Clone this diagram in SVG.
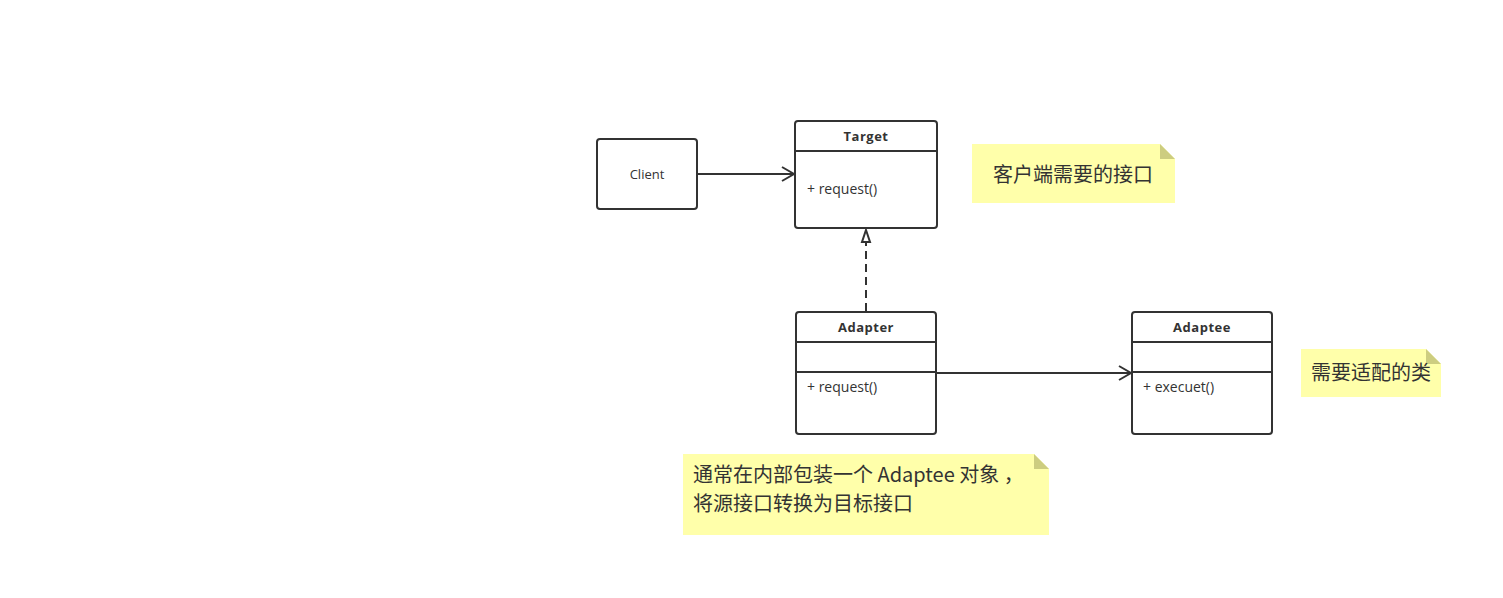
<svg xmlns="http://www.w3.org/2000/svg" width="1503" height="598" viewBox="0 0 1503 598">
<style>
.box{fill:#fff;stroke:#323232;stroke-width:2}
.ln{stroke:#323232;stroke-width:2;fill:none}
.t{font-family:"Open Sans","Noto Sans CJK SC",sans-serif;font-size:13px;fill:#333}
.m{font-family:"Open Sans","Noto Sans CJK SC",sans-serif;font-size:14px;fill:#333}
.tb{font-family:"Open Sans","Noto Sans CJK SC",sans-serif;font-size:13px;font-weight:bold;fill:#333;text-anchor:middle;letter-spacing:0.5px}
.note{fill:#ffffaa}
.fold{fill:#cdcd80}
.nt{font-family:"Noto Sans CJK SC","Open Sans",sans-serif;font-size:20px;fill:#333}
</style>
<defs>
<marker id="open" markerWidth="16" markerHeight="16" refX="14" refY="8" orient="auto" markerUnits="userSpaceOnUse">
<path d="M2,1 L14,8 L2,15" fill="none" stroke="#323232" stroke-width="2"/>
</marker>
</defs>
<rect width="1503" height="598" fill="#fff"/>
<g id="connectors">
<line class="ln" x1="697" y1="174" x2="794" y2="174" marker-end="url(#open)"/>
<line class="ln" x1="936" y1="373" x2="1131" y2="373" marker-end="url(#open)"/>
<line class="ln" x1="866" y1="311" x2="866" y2="243" stroke-dasharray="8,5"/>
<path d="M866,230 L870,242 L862,242 Z" fill="#fff" stroke="#323232" stroke-width="2"/>
</g>
<g id="client">
<rect class="box" x="597" y="139" width="100" height="70" rx="3"/>
<text class="t" x="647" y="179" text-anchor="middle">Client</text>
</g>
<g id="target">
<rect class="box" x="795" y="121" width="142" height="107" rx="3"/>
<line class="ln" x1="795" y1="151" x2="937" y2="151"/>
<text class="tb" x="866" y="141">Target</text>
<text class="m" x="807" y="194">+ request()</text>
</g>
<g id="adapter">
<rect class="box" x="796" y="312" width="140" height="122" rx="3"/>
<line class="ln" x1="796" y1="342" x2="936" y2="342"/>
<line class="ln" x1="796" y1="372" x2="936" y2="372"/>
<text class="tb" x="866" y="332">Adapter</text>
<text class="m" x="807" y="392">+ request()</text>
</g>
<g id="adaptee">
<rect class="box" x="1132" y="312" width="140" height="122" rx="3"/>
<line class="ln" x1="1132" y1="342" x2="1272" y2="342"/>
<line class="ln" x1="1132" y1="372" x2="1272" y2="372"/>
<text class="tb" x="1202" y="332">Adaptee</text>
<text class="m" x="1143" y="392">+ execuet()</text>
</g>
<g id="note1">
<path class="note" d="M972,144 H1160 L1175,159 V203 H972 Z"/>
<path class="fold" d="M1160,144 L1175,159 H1160 Z"/>
<text class="nt" x="993" y="182">客户端需要的接口</text>
</g>
<g id="note2">
<path class="note" d="M1301,349 H1426 L1441,364 V397 H1301 Z"/>
<path class="fold" d="M1426,349 L1441,364 H1426 Z"/>
<text class="nt" x="1311" y="380">需要适配的类</text>
</g>
<g id="note3">
<path class="note" d="M683,454 H1034 L1049,469 V535 H683 Z"/>
<path class="fold" d="M1034,454 L1049,469 H1034 Z"/>
<text class="nt"><tspan x="693" y="482">通常在内部包装一个 Adaptee 对象 ，</tspan><tspan x="693" y="511">将源接口转换为目标接口</tspan></text>
</g>
</svg>
